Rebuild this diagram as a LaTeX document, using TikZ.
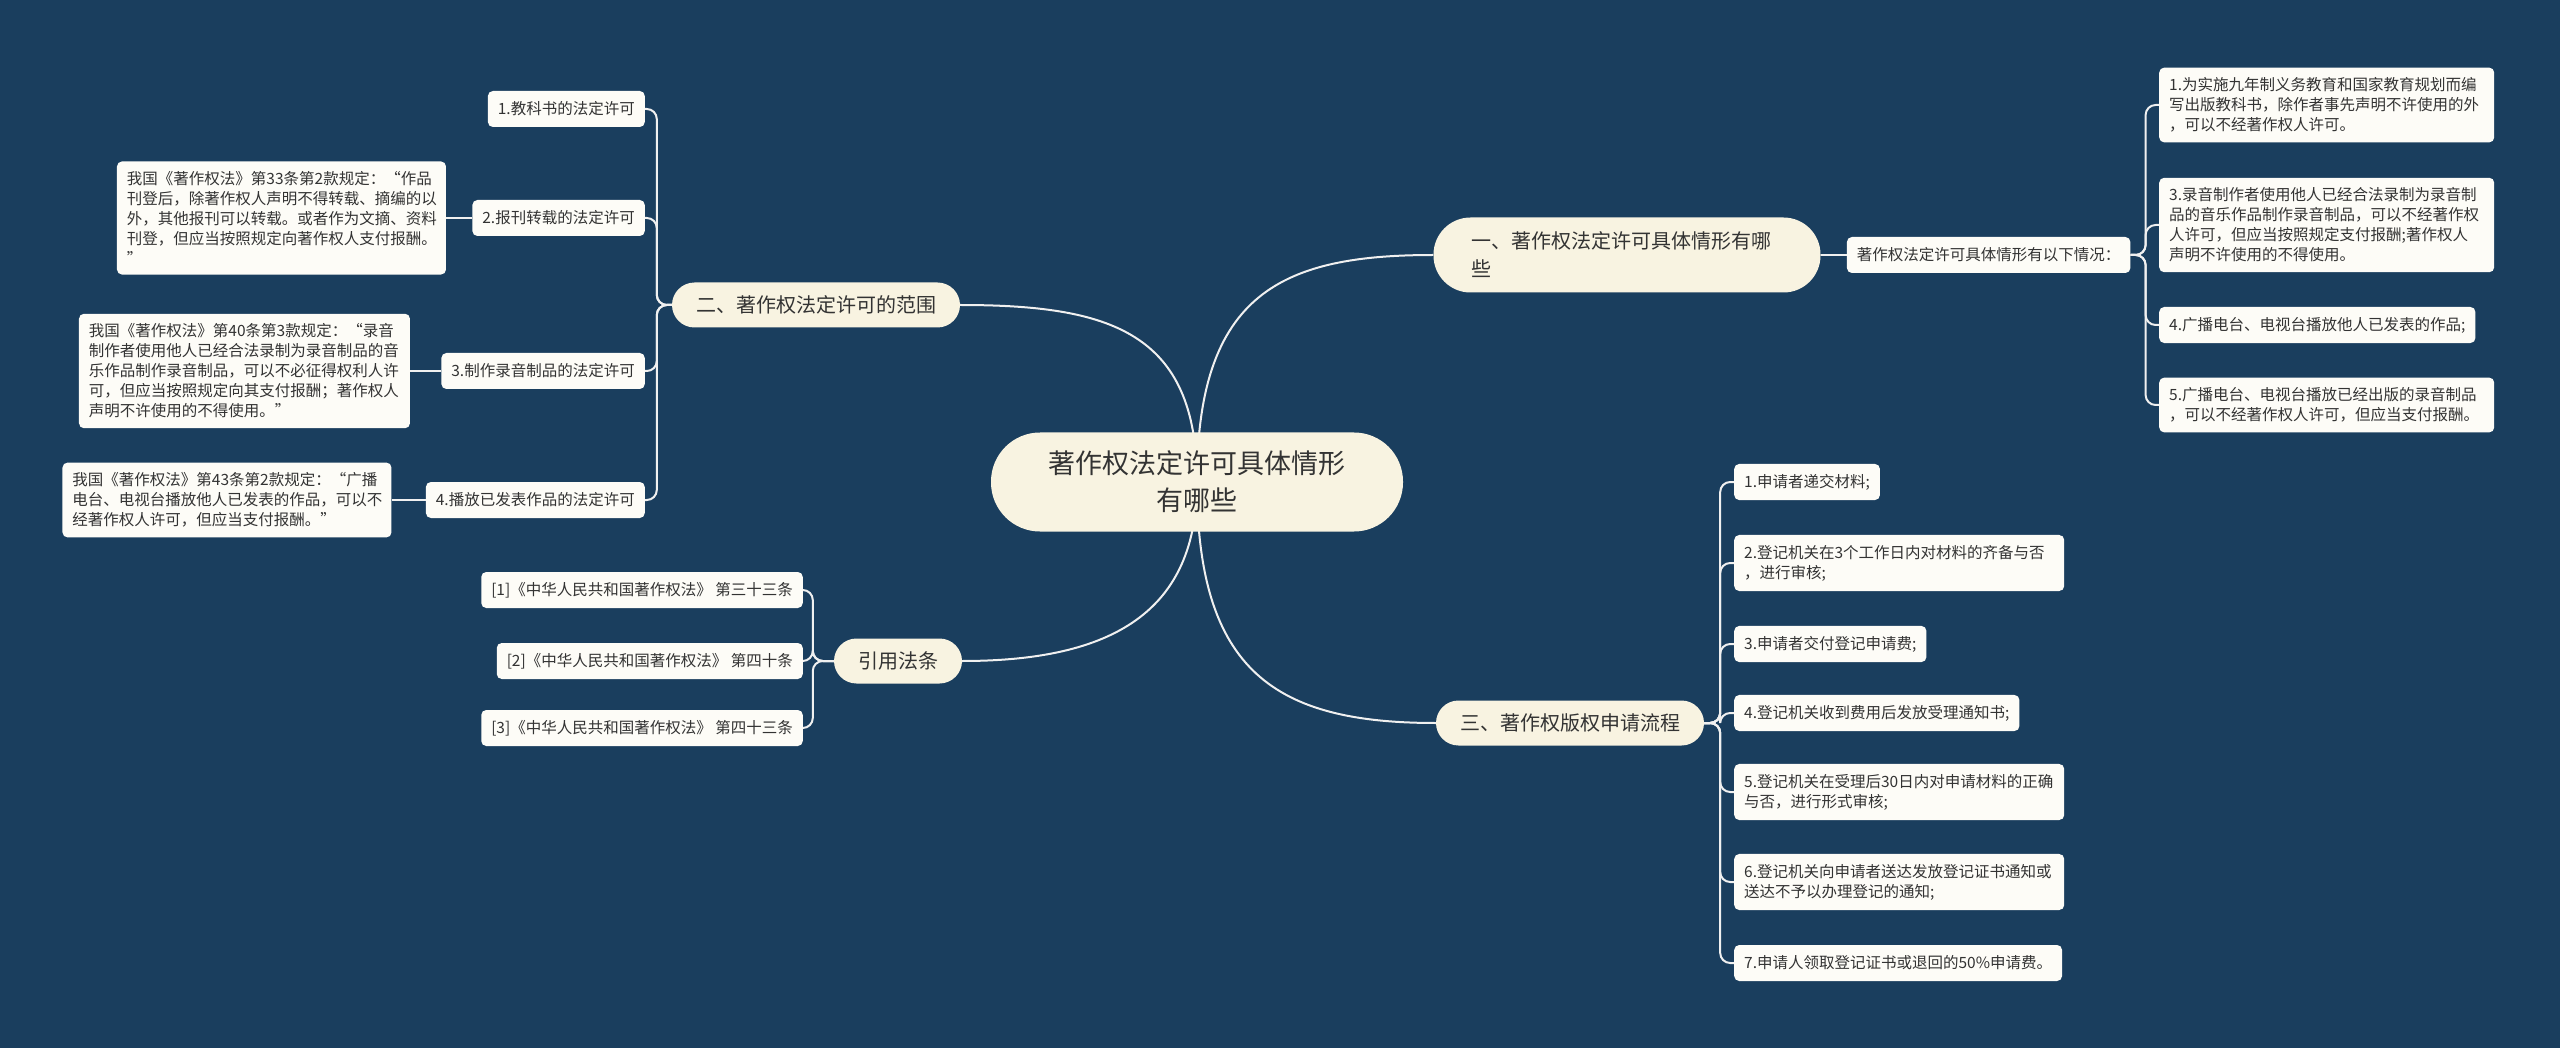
\documentclass[tikz,border=0pt]{standalone}
\usepackage{fontspec}
\newfontfamily\cjk{Noto Sans CJK SC}
\usepackage{xcolor}
\usetikzlibrary{positioning}
\definecolor{bgblue}{RGB}{26,62,94}
\definecolor{cream}{RGB}{248,243,225}
\definecolor{paper}{RGB}{253,252,247}
\definecolor{ink}{RGB}{51,51,51}
\definecolor{wire}{RGB}{240,240,240}
\pgfdeclarelayer{back}
\pgfdeclarelayer{wires}
\pgfsetlayers{back,wires,main}

\begin{document}
\begin{tikzpicture}[x=1pt, y=-1pt,
        node distance=26pt,
        root/.style={fill=cream, text=ink, rounded corners=49pt, minimum width=412pt, minimum height=99pt, align=center, font=\cjk\fontsize{27}{37}\selectfont},
        branch/.style={fill=cream, text=ink, rounded corners=22.5pt, minimum height=45pt, inner xsep=24pt, font=\cjk\fontsize{20}{28}\selectfont},
        leaf/.style={fill=paper, text=ink, rounded corners=5pt, minimum height=36pt, inner xsep=10pt, inner ysep=10pt, align=left, font=\cjk\fontsize{15.5}{20}\selectfont},
        link/.style={draw=wire, line width=2pt},
        twig/.style={draw=wire, line width=2pt, rounded corners=10pt}
    ]
        \begin{pgfonlayer}{back}
            \fill[bgblue] (0,0) rectangle (2560,1048);
        \end{pgfonlayer}
        \useasboundingbox (0,0) rectangle (2560,1048);

        \node[root] (root) at (1197,482) {著作权法定许可具体情形\\有哪些};

        \node[branch, minimum height=75pt, rounded corners=37pt, inner xsep=38pt, text width=311pt, align=left] (b1) at (1627,255) {一、著作权法定许可具体情形有哪\\些};
        \node[branch] (b2) at (816,305) {二、著作权法定许可的范围};
        \node[branch] (b3) at (1570,723) {三、著作权版权申请流程};
        \node[branch] (b4) at (898,661) {引用法条};

        \node[leaf, right=of b1] (la) {著作权法定许可具体情形有以下情况：};
        \node[leaf, anchor=west, text width=315pt] (r1) at (2159,105) {1.为实施九年制义务教育和国家教育规划而编\\写出版教科书，除作者事先声明不许使用的外\\，可以不经著作权人许可。};
        \node[leaf, anchor=west, text width=315pt] (r3) at (2159,225) {3.录音制作者使用他人已经合法录制为录音制\\品的音乐作品制作录音制品，可以不经著作权\\人许可，但应当按照规定支付报酬;著作权人\\声明不许使用的不得使用。};
        \node[leaf, anchor=west] (r4) at (2159,325) {4.广播电台、电视台播放他人已发表的作品;};
        \node[leaf, anchor=west, text width=315pt] (r5) at (2159,405) {5.广播电台、电视台播放已经出版的录音制品\\，可以不经著作权人许可，但应当支付报酬。};

        \node[leaf, anchor=east] (l1) at (645,109) {1.教科书的法定许可};
        \node[leaf, anchor=east] (l2) at (645,218) {2.报刊转载的法定许可};
        \node[leaf, anchor=east] (l3) at (645,371) {3.制作录音制品的法定许可};
        \node[leaf, anchor=east] (l4) at (645,500) {4.播放已发表作品的法定许可};
        \node[leaf, text width=309pt, left=26pt of l2] (d2) {我国《著作权法》第33条第2款规定：“作品\\刊登后，除著作权人声明不得转载、摘编的以\\外，其他报刊可以转载。或者作为文摘、资料\\刊登，但应当按照规定向著作权人支付报酬。\\”};
        \node[leaf, text width=311pt, left=31pt of l3] (d3) {我国《著作权法》第40条第3款规定：“录音\\制作者使用他人已经合法录制为录音制品的音\\乐作品制作录音制品，可以不必征得权利人许\\可，但应当按照规定向其支付报酬；著作权人\\声明不许使用的不得使用。”};
        \node[leaf, text width=309pt, left=34pt of l4] (d4) {我国《著作权法》第43条第2款规定：“广播\\电台、电视台播放他人已发表的作品，可以不\\经著作权人许可，但应当支付报酬。”};

        \node[leaf, anchor=east] (c1) at (803,590) {[1]《中华人民共和国著作权法》 第三十三条};
        \node[leaf, anchor=east] (c2) at (803,661) {[2]《中华人民共和国著作权法》 第四十条};
        \node[leaf, anchor=east] (c3) at (803,728) {[3]《中华人民共和国著作权法》 第四十三条};

        \node[leaf, anchor=west] (s1) at (1734,482) {1.申请者递交材料;};
        \node[leaf, anchor=west, text width=310pt] (s2) at (1734,563) {2.登记机关在3个工作日内对材料的齐备与否\\，进行审核;};
        \node[leaf, anchor=west] (s3) at (1734,644) {3.申请者交付登记申请费;};
        \node[leaf, anchor=west] (s4) at (1734,713) {4.登记机关收到费用后发放受理通知书;};
        \node[leaf, anchor=west, text width=310pt] (s5) at (1734,792) {5.登记机关在受理后30日内对申请材料的正确\\与否，进行形式审核;};
        \node[leaf, anchor=west, text width=310pt] (s6) at (1734,882) {6.登记机关向申请者送达发放登记证书通知或\\送达不予以办理登记的通知;};
        \node[leaf, anchor=west] (s7) at (1734,963) {7.申请人领取登记证书或退回的50\%申请费。};

        \begin{pgfonlayer}{wires}
            \draw[link] (root.center) .. controls +(0,-190) and +(-150,0) .. (b1.west);
            \draw[link] (root.center) .. controls +(0,-150) and +(150,0) .. (b2.east);
            \draw[link] (root.center) .. controls +(0,190) and +(-160,0) .. (b3.west);
            \draw[link] (root.center) .. controls +(0,130) and +(150,0) .. (b4.east);

            \draw[twig] (b1.east) -- (la.west);
            \foreach \n in {r1,r3,r4,r5}
                \draw[twig] (la.east) -- ++(15,0) |- (\n.west);
            \foreach \n in {l1,l2,l3,l4}
                \draw[twig] (b2.west) -- ++(-15,0) |- (\n.east);
            \draw[twig] (l2.west) -- (d2.east);
            \draw[twig] (l3.west) -- (d3.east);
            \draw[twig] (l4.west) -- (d4.east);
            \foreach \n in {c1,c2,c3}
                \draw[twig] (b4.west) -- ++(-21,0) |- (\n.east);
            \foreach \n in {s1,s2,s3,s4,s5,s6,s7}
                \draw[twig] (b3.east) -- ++(16,0) |- (\n.west);
        \end{pgfonlayer}
    \end{tikzpicture}
\end{document}
